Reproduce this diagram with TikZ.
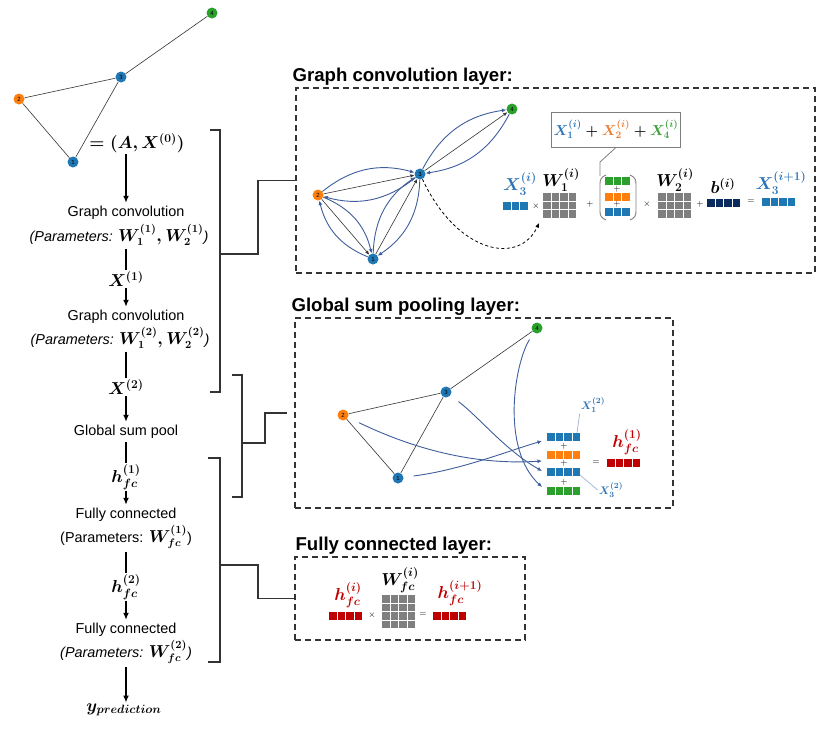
\documentclass[tikz,border=0pt]{standalone}
\usepackage[no-math]{fontspec}
\setmainfont{Liberation Sans}
\usepackage{amsmath}
\usetikzlibrary{arrows.meta, positioning}

\definecolor{nodeblue}{HTML}{1F77B4}
\definecolor{nodeorange}{HTML}{FF7F0E}
\definecolor{nodegreen}{HTML}{2CA02C}
\definecolor{flowblue}{HTML}{3F5E9C}
\definecolor{labblue}{HTML}{2E75B6}
\definecolor{laborange}{HTML}{ED7D31}
\definecolor{labgreen}{HTML}{3AA13A}
\definecolor{fcred}{HTML}{C00000}
\definecolor{biasnavy}{HTML}{0B2A5E}
\definecolor{matgray}{HTML}{7F7F7F}
\definecolor{linegray}{HTML}{333333}
\definecolor{leadgray}{HTML}{9DB3CF}

% a row of n coloured cells, top left corner at (x,y)
\newcommand{\cellbar}[4]{%
  \foreach \k in {1,...,#3} \fill[#4] ({#1+(\k-1)*8.5},#2) rectangle ++(7.7,7.5);}
% a grid of grey cells (cols x rows), top left corner at (x,y)
\newcommand{\cellgrid}[4]{%
  \foreach \i in {1,...,#3} \foreach \j in {1,...,#4}
    \fill[matgray] ({#1+(\i-1)*8.5},{#2+(\j-1)*8.5}) rectangle ++(7.7,7.7);}

\begin{document}
\begin{tikzpicture}[
    x=1pt, y=-1pt,
    >={Latex[length=7pt,width=6pt]}, % default arrow tip
    every node/.style={font=\fontsize{14.4}{17}\selectfont},
    vert/.style={circle, inner sep=0pt, minimum size=11pt, font=\fontsize{6}{6}\selectfont},
    vb/.style={vert, fill=nodeblue},
    vo/.style={vert, fill=nodeorange},
    vg/.style={vert, fill=nodegreen},
    edge/.style={draw=linegray, line width=0.6pt},
    edgearrow/.style={edge, -{Latex[length=4pt,width=3.5pt]}},
    flow/.style={draw=flowblue, line width=0.9pt, -{Latex[length=4.5pt,width=4pt]}},
    stepline/.style={draw=black, line width=1.3pt},
    steparrow/.style={stepline, ->},
    brace/.style={draw=linegray, line width=1.2pt},
    layerbox/.style={draw=linegray, dash pattern=on 6pt off 4pt, line width=1.2pt, inner sep=0pt},
    boxtitle/.style={font=\bfseries\fontsize{18.6}{21}\selectfont, inner sep=0pt},
    mathlab/.style={font=\fontsize{16.5}{19}\selectfont\boldmath, inner sep=1pt},
    smalllab/.style={font=\fontsize{11}{13}\selectfont\boldmath, inner sep=1pt, text=labblue},
    op/.style={font=\fontsize{9}{10}\selectfont, inner sep=0pt},
    leader/.style={draw=leadgray, line width=0.7pt}
]
    \useasboundingbox (0,0) rectangle (825,732);

    % Input graph
    \node[vb] (g1) at (73,162) {1};
    \node[vo] (g2) at (19,99) {2};
    \node[vb] (g3) at (121,77) {3};
    \node[vg] (g4) at (212,13) {4};
    \draw[edge] (g4) -- (g3) (g3) -- (g2) (g3) -- (g1) (g2) -- (g1);

    % Pipeline column
    \node[mathlab] (x0) at (137,143) {$=(A,X^{(0)})$};
    \node (gc1) at (126,213) {Graph convolution};
    \node (gc1p) at (119,235) {\itshape (Parameters: {\fontsize{16}{19}\selectfont\boldmath$W_1^{(1)},W_2^{(1)}$})};
    \node[mathlab] (x1) at (126,279) {$X^{(1)}$};
    \node (gc2) at (126,317) {Graph convolution};
    \node (gc2p) at (120,338) {\itshape (Parameters: {\fontsize{16}{19}\selectfont\boldmath$W_1^{(2)},W_2^{(2)}$})};
    \node[mathlab] (x2) at (126,387) {$X^{(2)}$};
    \node (gsp) at (126,432) {Global sum pool};
    \node[mathlab] (h1) at (126,477) {$h_{fc}^{(1)}$};
    \node (fc1) at (126,515) {Fully connected};
    \node (fc1p) at (126,537) {(Parameters: {\fontsize{16}{19}\selectfont\boldmath$W_{fc}^{(1)}$})};
    \node[mathlab] (h2) at (126,587) {$h_{fc}^{(2)}$};
    \node (fc2) at (126,630) {Fully connected};
    \node (fc2p) at (126,652) {\itshape (Parameters: {\fontsize{16}{19}\selectfont\boldmath$W_{fc}^{(2)}$})};
    \node[mathlab, font=\fontsize{18}{21}\selectfont\boldmath] (ypred) at (124,710) {$y_{prediction}$};

    \draw[steparrow] (x0.south -| gc1.north) -- (gc1.north);
    \draw[stepline] (gc1p.south -| x1) -- (x1.north);
    \draw[steparrow] (x1.south) -- (gc2.north);
    \draw[stepline] (gc2p.south -| x2) -- (x2.north);
    \draw[steparrow] (x2.south) -- (gsp.north);
    \draw[stepline] (gsp.south) -- (h1.north);
    \draw[steparrow] (h1.south) -- (fc1.north);
    \draw[stepline] (fc1p.south) -- (h2.north);
    \draw[steparrow] (h2.south) -- (fc2.north);
    \draw[steparrow] (fc2p.south) -- (fc2p.south |- ypred.north);

    % Layer boxes
    \node[layerbox, minimum width=519pt, minimum height=185pt] (gcbox) at (555.5,180.5) {};
    \node[boxtitle, above right=2pt and -3pt of gcbox.north west] (gctitle) {Graph convolution layer:};
    \node[layerbox, minimum width=378pt, minimum height=190pt] (gspbox) at (484,413) {};
    \node[boxtitle, above right=2pt and -3pt of gspbox.north west] (gsptitle) {Global sum pooling layer:};
    \node[layerbox, minimum width=230pt, minimum height=83pt] (fcbox) at (410,598.5) {};
    \node[boxtitle, above right=2pt and 1pt of fcbox.north west] (fctitle) {Fully connected layer:};

    % Brackets and their links
    \draw[brace] (210,130) -- (220,130) -- (220,392) -- (210,392);
    \draw[brace] (232,375) -- (242,375) -- (242,497) -- (232,497);
    \draw[brace] (208,458) -- (220,458) -- (220,662) -- (208,662);
    \coordinate (b1) at (220,254);
    \coordinate (b2) at (242,443);
    \coordinate (b3) at (220,565);
    \draw[brace] (b1) -- (258,254) |- (gcbox.west);
    \draw[brace, shorten >=7pt] (b2) -- (265,443) |- (gspbox.west);
    \draw[brace] (b3) -- (258,565) |- (fcbox.west);

    % Graph convolution layer: graph
    \node[vb] (conv1) at (373,259) {1};
    \node[vo] (conv2) at (318,195) {2};
    \node[vb] (conv3) at (420,174) {3};
    \node[vg] (conv4) at (512,109) {4};
    \foreach \na/\nb in {conv2/conv3, conv3/conv4, conv1/conv3, conv2/conv1} {
        \draw[edgearrow] (\na) -- (\nb);
        \draw[flow, bend left=27] (\na) to (\nb);
        \draw[flow, bend left=27] (\nb) to (\na);
    }
    \coordinate (dashend) at (539,223);
    \draw[line width=0.8pt, dash pattern=on 3pt off 2.5pt, -{Latex[length=4.5pt,width=4pt]}]
        (conv3) .. controls (458,255) and (520,265) .. (dashend);

    % Graph convolution layer: update of node 3
    \node[draw=matgray, line width=0.9pt, minimum width=120pt, minimum height=35pt, inner sep=2pt,
          font=\fontsize{14}{17}\selectfont\boldmath] (fbox) at (616,129.5)
        {$\textcolor{labblue}{X_1^{(i)}}+\textcolor{laborange}{X_2^{(i)}}+\textcolor{labgreen}{X_4^{(i)}}$};
    \coordinate (parentop) at (600,176);
    \draw[draw=matgray, line width=0.8pt] (fbox.south) -- (600,162) -- (parentop);

    \node[mathlab, text=labblue] (x3lab) at (520,184) {$X_3^{(i)}$};
    \cellbar{503}{202}{3}{nodeblue}
    \node[op] (op1) at (536,206) {$\times$};
    \node[mathlab] (w1lab) at (561,180) {$W_1^{(i)}$};
    \cellgrid{543}{193}{4}{3}
    \node[op] (op2) at (590,204) {$+$};
    \draw[draw=matgray, line width=0.9pt] (606,175) .. controls (601,177) and (600,180) .. (600,184)
        -- (600,211) .. controls (600,215) and (601,218) .. (606,220);
    \draw[draw=matgray, line width=0.9pt] (630,175) .. controls (635,177) and (636,180) .. (636,184)
        -- (636,211) .. controls (636,215) and (635,218) .. (630,220);
    \cellbar{605}{177}{3}{nodegreen}
    \node[op] (op3) at (617,189) {$+$};
    \cellbar{605}{193}{3}{nodeorange}
    \node[op] (op4) at (617,204) {$+$};
    \cellbar{605}{208}{3}{nodeblue}
    \node[op] (op5) at (647,204) {$\times$};
    \node[mathlab] (w2lab) at (675,180) {$W_2^{(i)}$};
    \cellgrid{658}{193}{4}{3}
    \node[op] (op6) at (700,204) {$+$};
    \node[mathlab] (blab) at (723,186) {$b^{(i)}$};
    \cellbar{707}{199}{4}{biasnavy}
    \node[op] (op7) at (751,202) {$=$};
    \node[mathlab, text=labblue] (x3new) at (781,183) {$X_3^{(i+1)}$};
    \cellbar{762}{198}{4}{nodeblue}

    % Global sum pooling layer: graph
    \node[vb] (pool1) at (398,478) {1};
    \node[vo] (pool2) at (343,415) {2};
    \node[vb] (pool3) at (446,392) {3};
    \node[vg] (pool4) at (537,328) {4};
    \draw[edge] (pool4) -- (pool3) (pool3) -- (pool2) (pool3) -- (pool1) (pool2) -- (pool1);

    % Global sum pooling layer: node features summed
    \coordinate (s1) at (542,441);
    \coordinate (s2) at (542,461);
    \coordinate (s3) at (542,471);
    \coordinate (s4) at (542,487);
    \draw[flow, shorten <=10pt] (pool1) .. controls (460,470) and (505,452) .. (s1);
    \draw[flow, shorten <=12pt] (pool2) .. controls (420,452) and (480,465) .. (s2);
    \draw[flow, shorten <=10pt] (pool3) .. controls (480,418) and (505,450) .. (s3);
    \draw[flow, shorten <=8pt] (pool4) .. controls (515,362) and (500,448) .. (s4);

    \cellbar{547}{433}{4}{nodeblue}
    \node[op] (op8) at (564,446) {$+$};
    \cellbar{547}{451}{4}{nodeorange}
    \node[op] (op9) at (564,463) {$+$};
    \cellbar{547}{468}{4}{nodeblue}
    \node[op] (op10) at (564,482) {$+$};
    \cellbar{547}{487}{4}{nodegreen}
    \node[op] (op11) at (596,463) {$=$};
    \cellbar{607}{459}{4}{fcred}
    \node[mathlab, text=fcred, font=\fontsize{17.5}{20}\selectfont\boldmath] (hsum) at (627,442) {$h_{fc}^{(1)}$};

    \node[smalllab] (x1pool) at (593,405) {$X_1^{(2)}$};
    \node[smalllab] (x3pool) at (611,490) {$X_3^{(2)}$};
    \coordinate (bar1end) at (577,433);
    \coordinate (bar3end) at (580,475);
    \draw[leader] (x1pool.south west) -- (bar1end);
    \draw[leader] (bar3end) -- (x3pool.west);

    % Fully connected layer
    \node[mathlab, text=fcred] (hin) at (348,595) {$h_{fc}^{(i)}$};
    \cellbar{329}{612}{4}{fcred}
    \node[op] (op12) at (372,615) {$\times$};
    \node[mathlab] (wfc) at (400,580) {$W_{fc}^{(i)}$};
    \cellgrid{382}{595}{4}{4}
    \node[op] (op13) at (423,615) {$=$};
    \node[mathlab, text=fcred] (hout) at (460,593) {$h_{fc}^{(i+1)}$};
    \cellbar{433}{612}{4}{fcred}

\end{tikzpicture}
\end{document}
